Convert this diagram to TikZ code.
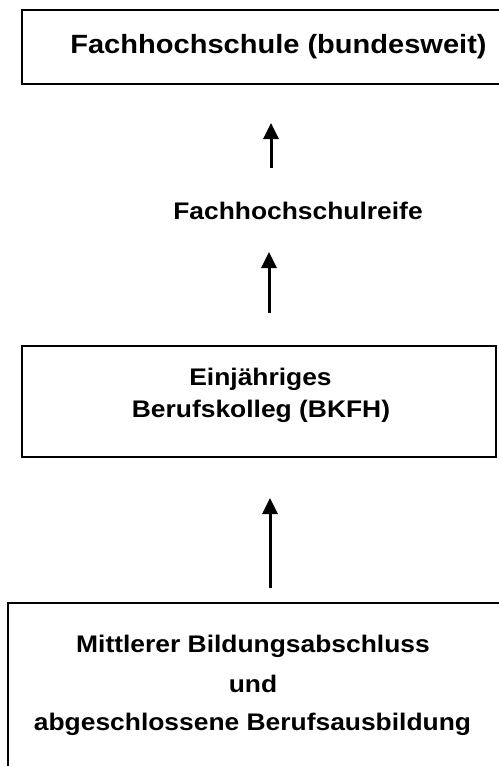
\documentclass[tikz,border=0pt]{standalone}
\usepackage{fontspec}
\setmainfont{Liberation Sans}[FakeStretch=1.1]
\usetikzlibrary{arrows.meta}
\begin{document}
\begin{tikzpicture}[x=1bp,y=-1bp,
  frame/.style={draw,line width=2bp,inner sep=0pt},
  txt/.style={font=\bfseries\fontsize{24bp}{28bp}\selectfont,anchor=base,inner sep=0pt},
  bigtxt/.style={font=\bfseries\fontsize{26.4bp}{30bp}\selectfont,anchor=base,inner sep=0pt},
  up/.style={line width=3bp,-{Triangle[width=15bp,length=16bp]}}]
\useasboundingbox (0,0) rectangle (499,766);
\clip (0,0) rectangle (499,766);
% boxes
\node[frame,minimum width=498bp,minimum height=74bp] (fhbox) at (271,47) {};
\node[frame,minimum width=474bp,minimum height=111bp] (bkbox) at (259,401.5) {};
\node[frame,minimum width=512bp,minimum height=197bp] (mbbox) at (264,701.5) {};
% texts
\node[bigtxt] (fhtext) at (278.5,54) {Fachhochschule (bundesweit)};
\node[txt] (reife) at (298,219) {Fachhochschulreife};
\node[txt] (bk1) at (260.5,385) {Einjähriges};
\node[txt] (bk2) at (261,417) {Berufskolleg (BKFH)};
\node[txt] (mb1) at (253,652) {Mittlerer Bildungsabschluss};
\node[txt] (mb2) at (253,692) {und};
\node[txt] (mb3) at (252.5,730) {abgeschlossene Berufsausbildung};
% arrows
\coordinate (a1s) at (271,168);
\coordinate (a1e) at (271,123);
\coordinate (a2s) at (269,313);
\coordinate (a2e) at (269,252);
\coordinate (a3s) at (270,588);
\coordinate (a3e) at (270,498);
\draw[up] (a1s) -- (a1e);
\draw[up] (a2s) -- (a2e);
\draw[up] (a3s) -- (a3e);
\end{tikzpicture}
\end{document}
